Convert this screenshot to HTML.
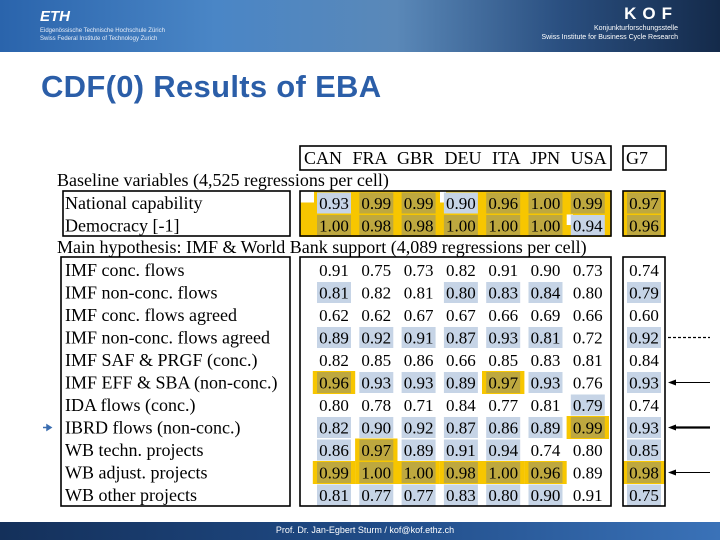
<!DOCTYPE html>
<html><head><meta charset="utf-8"><style>
body{margin:0;width:720px;height:540px;overflow:hidden;background:#fff;position:relative;font-family:"Liberation Serif",serif}
.hdr{position:absolute;left:0;top:0;width:720px;height:52px;background:linear-gradient(90deg,#2a64ac 0%,#4a86c6 30%,#5a88b8 55%,#2a4f80 78%,#142a4a 100%)}
.ftr{position:absolute;left:0;top:522px;width:720px;height:18px;background:linear-gradient(90deg,#14305a,#1f4a85 50%,#3a72b8)}
.t{position:absolute;white-space:nowrap}
svg{position:absolute;left:0;top:0}
</style></head><body>
<div class="hdr"></div>
<div class="t" style="left:40px;top:8px;color:#fff;font:italic bold 15px 'Liberation Sans',sans-serif">ETH</div>
<div class="t" style="left:40px;top:27px;color:#e8eef8;font:6px 'Liberation Sans',sans-serif;line-height:8px">Eidgenössische Technische Hochschule Zürich<br>Swiss Federal Institute of Technology Zurich</div>
<div class="t" style="right:42px;top:4px;color:#fff;font:bold 17px 'Liberation Sans',sans-serif;letter-spacing:6px">KOF</div>
<div class="t" style="right:42px;top:24px;color:#fff;font:7px 'Liberation Sans',sans-serif;line-height:9px;text-align:right">Konjunkturforschungsstelle<br>Swiss Institute for Business Cycle Research</div>
<div class="t" style="left:41px;top:69px;color:#2b5ea8;font:bold 31px 'Liberation Sans',sans-serif;letter-spacing:0.3px">CDF(0) Results of EBA</div>
<div class="ftr"></div>
<div class="t" style="left:0;width:730px;text-align:center;top:525px;color:#fff;font:9px 'Liberation Sans',sans-serif">Prof. Dr. Jan-Egbert Sturm / kof@kof.ethz.ch</div>
<svg id="tbl" width="720" height="540"></svg>
<script>
const columns=["CAN","FRA","GBR","DEU","ITA","JPN","USA"];
const baseLabels=["National capability","Democracy [-1]"];
const baseValues=[[0.93,0.99,0.99,0.90,0.96,1.00,0.99,0.97],[1.00,0.98,0.98,1.00,1.00,1.00,0.94,0.96]];
const baseMarks=["byybyyyy","yyyyyyby"];
const mainLabels=["IMF conc. flows","IMF non-conc. flows","IMF conc. flows agreed","IMF non-conc. flows agreed","IMF SAF & PRGF (conc.)","IMF EFF & SBA (non-conc.)","IDA flows (conc.)","IBRD flows (non-conc.)","WB techn. projects","WB adjust. projects","WB other projects"];
const mainValues=[
[0.91,0.75,0.73,0.82,0.91,0.90,0.73,0.74],
[0.81,0.82,0.81,0.80,0.83,0.84,0.80,0.79],
[0.62,0.62,0.67,0.67,0.66,0.69,0.66,0.60],
[0.89,0.92,0.91,0.87,0.93,0.81,0.72,0.92],
[0.82,0.85,0.86,0.66,0.85,0.83,0.81,0.84],
[0.96,0.93,0.93,0.89,0.97,0.93,0.76,0.93],
[0.80,0.78,0.71,0.84,0.77,0.81,0.79,0.74],
[0.82,0.90,0.92,0.87,0.86,0.89,0.99,0.93],
[0.86,0.97,0.89,0.91,0.94,0.74,0.80,0.85],
[0.99,1.00,1.00,0.98,1.00,0.96,0.89,0.98],
[0.81,0.77,0.77,0.83,0.80,0.90,0.91,0.75]];
const mainMarks=["nnnnnnnn","bnnbbbnb","nnnnnnnn","bbbbbbnb","nnnnnnnn","ybbbybnb","nnnnnnbn","bbbbbbyb","bybbbnnb","yyyyyyny","bbbbbbnb"];
const NS="http://www.w3.org/2000/svg";
const svg=document.getElementById('tbl');
const colX=i=>i<7?334+i*42.3:644;
const baseY=i=>203+i*22.5;
const mainY=i=>270+i*22.5;
function mk(tag,at){const e=document.createElementNS(NS,tag);for(const k in at)e.setAttribute(k,at[k]);svg.appendChild(e);return e;}
function txt(x,y,s,anchor,fs){const e=mk('text',{x:x,y:y+6,'font-size':fs||17,'font-family':'Liberation Serif, serif',fill:'#000','text-anchor':anchor||'start'});e.textContent=s;return e;}
function cellBg(x,y,m,name){
  if(m==='y'){const r=mk('rect',{x:x-21.2,y:y-11.5,width:42.4,height:23,fill:'#f7c600'});
    
    }
  if(m==='y'||m==='b'){const r=mk('rect',{x:x-17,y:y-10.5,width:34,height:21,fill:m==='y'?'#bea83f':'#c6d4e6'});
    
    }
}
for(let r=0;r<2;r++){const b=mk('rect',{x:300,y:baseY(r)-11.5,width:311,height:23,fill:'#f7c600'});
  
  
  const g=mk('rect',{x:623,y:baseY(r)-11.5,width:42,height:23,fill:'#f7c600'});
  
  }
mk('rect',{x:300,y:191.5,width:14,height:11,fill:'#fff'});
mk('rect',{x:440,y:191.5,width:6,height:11,fill:'#fff'});
mk('rect',{x:565,y:214,width:8,height:11,fill:'#fff'});
function drawRows(labels,values,marks,yf,lx,prefix){
  labels.forEach((l,r)=>{
    const y=yf(r);
    values[r].forEach((v,c)=>{
      const nm=prefix+'-r'+r+'-c'+c;
      cellBg(colX(c),y,marks[r][c],nm);
      const t=txt(colX(c),y,v.toFixed(2),'middle');
      
      
    });
    const t=txt(lx,y,l,'start',18);
    
    
  });
}
drawRows(baseLabels,baseValues,baseMarks,baseY,65,'baseline');
drawRows(mainLabels,mainValues,mainMarks,mainY,65,'main');
const hdr=txt(304,158,columns.join(' '),'start',18);
hdr.setAttribute('word-spacing','6');


let g7=txt(626,158,'G7','start',18);


let s1=txt(57,180,'Baseline variables (4,525 regressions per cell)','start',18);


let s2=txt(57,247,'Main hypothesis: IMF & World Bank support (4,089 regressions per cell)','start',18);


const boxes=[[300,146,311,24],[623,146,43,24],[63,191,227,45],[300,191,311,45],[623,191,42,45],[61,257,229,249],[300,257,311,249],[623,257,42,249]];
boxes.forEach(b=>{const r=mk('rect',{x:b[0],y:b[1],width:b[2],height:b[3],fill:'none',stroke:'#000','stroke-width':1.6});
  
  });
const dl=mk('line',{x1:668,y1:mainY(3),x2:710,y2:mainY(3),stroke:'#000','stroke-width':1.3,'stroke-dasharray':'3,2'});


[[5,1],[7,2.2],[9,1]].forEach(a=>{const y=mainY(a[0]);
  const l=mk('line',{x1:710,y1:y,x2:674,y2:y,stroke:'#000','stroke-width':a[1]});
  
  
  mk('path',{d:`M668 ${y} L676 ${y-3} L676 ${y+3}Z`,fill:'#000'});});
const ba=mk('path',{d:`M43 ${mainY(7)} L49 ${mainY(7)} M47 ${mainY(7)-2.5} L51 ${mainY(7)} L47 ${mainY(7)+2.5}Z`,stroke:'#3a6db0','stroke-width':1.5,fill:'#3a6db0'});


</script>
</body></html>
